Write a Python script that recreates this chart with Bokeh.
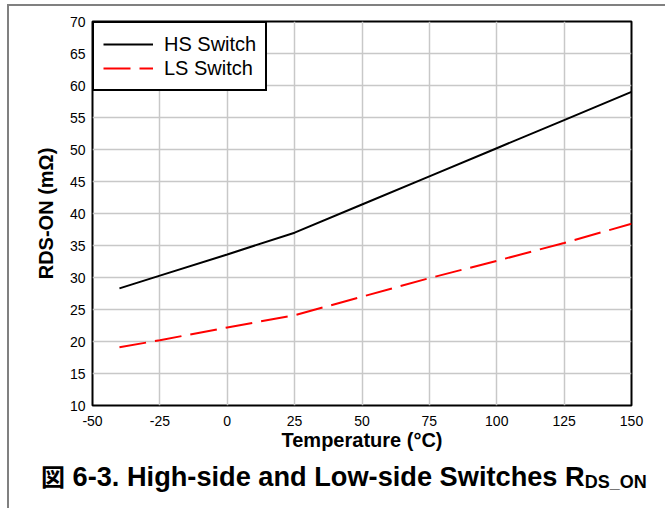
from bokeh.plotting import figure
from bokeh.layouts import column
from bokeh.models import Range1d, FixedTicker, GlobalInlineStyleSheet, Div
from bokeh.embed import file_html
from bokeh.resources import INLINE

# ---- data ----
temperature = [-40, -25, 0, 25, 50, 75, 100, 125, 150]
hs_switch = [28.3, 30.3, 33.6, 37.0, 41.4, 45.8, 50.2, 54.6, 59.0]
ls_switch = [19.1, 20.2, 22.2, 24.1, 27.0, 29.9, 32.6, 35.4, 38.4]
x_ticks = [-50, -25, 0, 25, 50, 75, 100, 125, 150]
y_ticks = [10, 15, 20, 25, 30, 35, 40, 45, 50, 55, 60, 65, 70]
x_title = "Temperature (°C)"
y_title = "RDS-ON (mΩ)"
series_names = ["HS Switch", "LS Switch"]
caption_mark = "図"
caption_text = "6-3. High-side and Low-side Switches"
caption_r = "R"
caption_sub = "DS_ON"

FONT = "Liberation Sans"
W = 665
H1, H2 = 455, 50
FL, FR, FT, FB = 92, 631, 21, 405  # frame position on page (px)

p = figure(width=W, height=H1, output_backend="svg", toolbar_location=None,
           x_range=Range1d(-50, 150), y_range=Range1d(10, 70),
           min_border_left=FL, min_border_right=W - FR,
           min_border_top=FT, min_border_bottom=H1 - FB)
p.background_fill_color = "white"
p.border_fill_color = "white"
p.outline_line_color = "black"
p.outline_line_width = 2
p.stylesheets = [GlobalInlineStyleSheet(css=(
    "body::before { content: ''; position: fixed; left: 7px; top: 4px; "
    "width: 800px; height: 700px; border-top: 2px solid #808080; "
    "border-left: 2px solid #808080; z-index: 100; pointer-events: none; }"))]

for g in (p.xgrid, p.ygrid):
    g.grid_line_color = "#c8c8c8"
    g.grid_line_width = 1.5
p.xgrid.ticker = FixedTicker(ticks=x_ticks)
p.ygrid.ticker = FixedTicker(ticks=y_ticks)

for ax in (p.xaxis, p.yaxis):
    ax.axis_line_color = None
    ax.major_tick_line_color = None
    ax.minor_tick_line_color = None
    ax.major_tick_in = 0
    ax.major_tick_out = 0
    ax.major_label_text_font = FONT
    ax.major_label_text_font_size = "14px"
    ax.major_label_text_color = "black"
    ax.axis_label_text_font = FONT
    ax.axis_label_text_font_size = "20px"
    ax.axis_label_text_font_style = "bold"
    ax.axis_label_text_color = "black"
p.xaxis.ticker = FixedTicker(ticks=x_ticks)
p.yaxis.ticker = FixedTicker(ticks=y_ticks)
p.xaxis.major_label_overrides = {t: str(t) for t in x_ticks}
p.yaxis.major_label_overrides = {t: str(t) for t in y_ticks}
p.xaxis.major_label_standoff = 10
p.yaxis.major_label_standoff = 7
p.xaxis.axis_label = x_title
p.yaxis.axis_label = y_title
p.xaxis.axis_label_standoff = 0
p.yaxis.axis_label_standoff = 10

p.line(temperature, hs_switch, line_color="black", line_width=2,
       legend_label=series_names[0])
p.line(temperature, ls_switch, line_color="#ff0000", line_width=2,
       line_dash="27 9", legend_label=series_names[1])

lg = p.legend[0]
lg.location = "top_left"
lg.margin = 0
lg.padding = 9
lg.spacing = 0
lg.label_height = 24
lg.glyph_height = 24
lg.glyph_width = 50
lg.label_width = 92
lg.label_standoff = 11
lg.label_text_font = FONT
lg.label_text_font_size = "20px"
lg.label_text_color = "black"
lg.border_line_color = "black"
lg.border_line_alpha = 1.0
lg.border_line_width = 2
lg.background_fill_color = "white"
lg.background_fill_alpha = 1

# ---- caption under the chart ----
caption_html = (
    '<div style="font-family: \'Liberation Sans\', sans-serif; font-weight: bold; '
    'font-size: 27.2px; line-height: 30px; color: black; white-space: nowrap; '
    'padding: 6px 0 0 41px; margin: 0;">'
    f'<span style="font-family: \'Noto Sans CJK JP\'; font-size: 24px;">{caption_mark}</span> '
    f'{caption_text} {caption_r}'
    f'<span style="font-size: 18px; position: relative; top: 2px;">{caption_sub}</span>'
    '</div>'
)
cap = Div(text=caption_html, width=W, height=H2, margin=0)

layout = column(p, cap, spacing=0)
open("out.html", "w").write(file_html(layout, INLINE))
